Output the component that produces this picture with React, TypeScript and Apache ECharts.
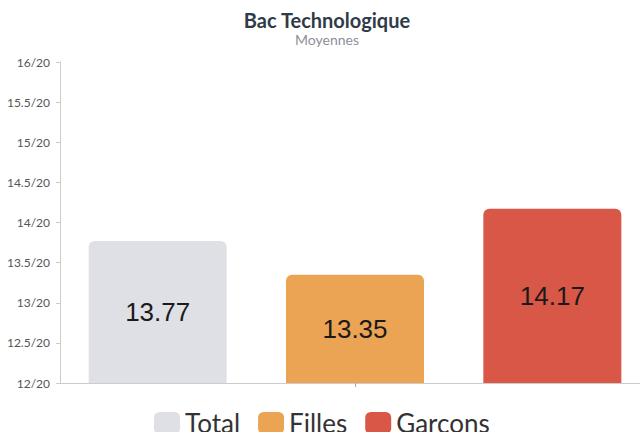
import React, { useEffect, useRef } from "react";
import * as echarts from "echarts";

const categories = ["Bac Technologique"];
const seriesNames = ["Total", "Filles", "Garçons"];
const totalValues = [13.77];
const fillesValues = [13.35];
const garconsValues = [14.17];
const colors = ["#dfe0e5", "#eba354", "#d95747"];

export default function App() {
  const ref = useRef<HTMLDivElement>(null);
  useEffect(() => {
    if (!ref.current) return;
    const chart = echarts.init(ref.current, null, { renderer: "svg" });
    const data = [totalValues, fillesValues, garconsValues];
    chart.setOption({
      animation: false,
      title: {
        text: "Bac Technologique",
        subtext: "Moyennes",
        left: 322,
        textAlign: "center",
        top: 5,
        itemGap: 2,
        textStyle: { fontFamily: "Lato", fontSize: 20, fontWeight: "bold", color: "#2f3b48" },
        subtextStyle: { fontFamily: "Lato", fontSize: 14, color: "#8c909a" },
      },
      legend: {
        data: seriesNames,
        left: 149,
        top: 405,
        itemWidth: 26,
        itemHeight: 22,
        itemGap: 18,
        icon: "roundRect",
        textStyle: { fontFamily: "Lato", fontSize: 26, color: "#333" },
      },
      grid: { left: 60, top: 62, right: 0, bottom: 49, containLabel: false },
      xAxis: {
        type: "category",
        data: categories,
        axisLine: { lineStyle: { color: "#cccccc" } },
        axisTick: { show: true, alignWithLabel: true, length: 4, lineStyle: { color: "#aaaaaa" } },
        axisLabel: { show: false },
      },
      yAxis: {
        type: "value",
        min: 12,
        max: 16,
        interval: 0.5,
        splitLine: { show: false },
        axisLine: { show: true, lineStyle: { color: "#cccccc" } },
        axisTick: { show: true, length: 4, lineStyle: { color: "#cccccc" } },
        axisLabel: {
          formatter: (v: number) => `${v}/20`,
          fontFamily: "Lato",
          fontSize: 12,
          color: "#555",
          margin: 10,
        },
      },
      series: seriesNames.map((name, i) => ({
        name,
        type: "bar",
        data: data[i],
        barWidth: 138,
        barGap: "43%",
        itemStyle: { color: colors[i], borderRadius: [6, 6, 0, 0] },
        label: {
          show: true,
          position: "inside",
          fontFamily: "Liberation Sans",
          fontSize: 26,
          color: "#1a1a1a",
          formatter: (p: any) => p.value.toFixed(2),
        },
      })),
    });
    return () => chart.dispose();
  }, []);
  return (
    <div style={{ position: "absolute", left: 0, top: 0, width: 640, height: 432, overflow: "hidden" }}>
      <div ref={ref} style={{ width: 650, height: 432 }} />
    </div>
  );
}
